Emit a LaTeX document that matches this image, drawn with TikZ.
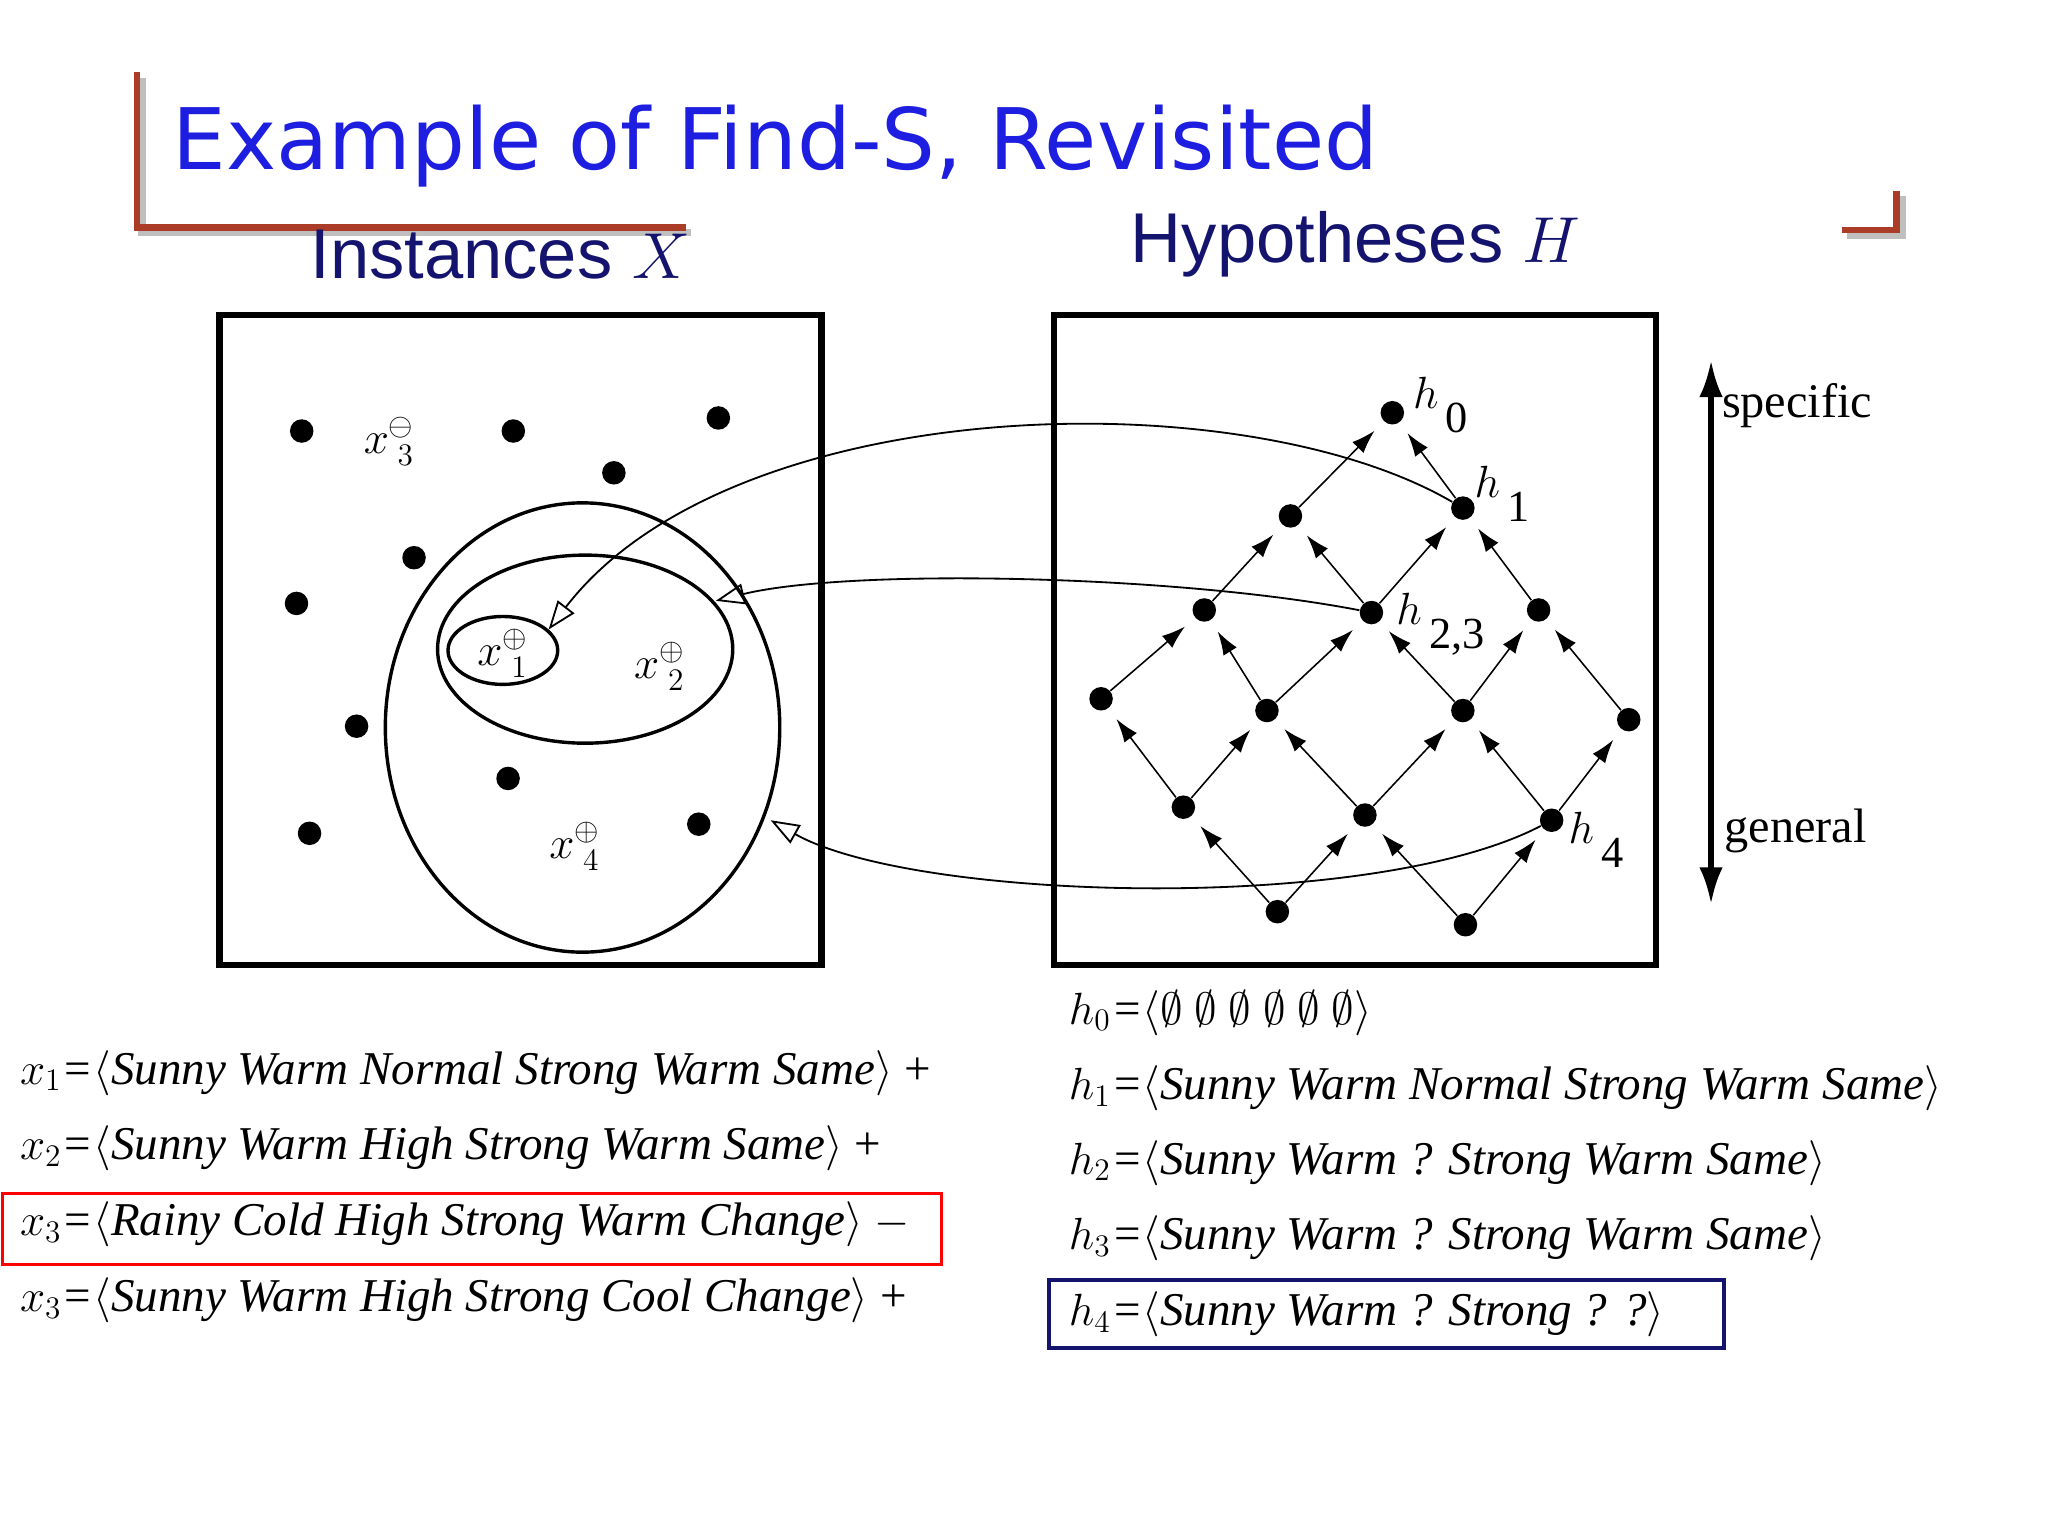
\documentclass[tikz,border=0pt]{standalone}
\usepackage{amssymb}
\usepackage{fontspec}
\setmainfont{Liberation Serif}
\newfontfamily\titlefont{DejaVu Sans}
\newfontfamily\arialf{Liberation Sans}
\usetikzlibrary{arrows.meta}
\definecolor{ttl}{RGB}{30,30,225}
\definecolor{navy}{RGB}{20,20,110}
\definecolor{deco}{RGB}{170,60,40}
\tikzset{
 dot/.style={circle,fill=black,inner sep=0pt,minimum size=9pt},
 up/.style={-{Latex[length=9pt,width=6pt]},shorten >=5pt,line width=0.6pt},
 curv/.style={-{Triangle[open,length=11pt,width=8pt]},line width=0.7pt},
 bt/.style={anchor=base west,inner sep=0pt,font=\fontsize{18}{22}\selectfont},
 hl/.style={font=\fontsize{17}{20}\selectfont\itshape,inner sep=0pt},
 lab/.style={font=\fontsize{18}{20}\selectfont,inner sep=0pt}
}
\begin{document}
\begin{tikzpicture}[x=0.5pt,y=-0.5pt]
\useasboundingbox (0,0) rectangle (1568,1176);
% decorations
\draw[gray!50,line width=3pt] (109,60) -- (109,178) -- (529,178);
\draw[deco,line width=2.5pt] (105,55) -- (105,174) -- (525,174);
\draw[gray!50,line width=3pt] (1414,180) -- (1456,180) -- (1456,150);
\draw[deco,line width=2.5pt] (1410,176) -- (1452,176) -- (1452,146);
\node[anchor=base west,text=ttl,font=\titlefont\fontsize{32.5}{38}\selectfont,inner sep=0pt] (title) at (132,130) {Example of Find-S, Revisited};
\node[anchor=base,text=navy,font=\arialf\fontsize{27}{30}\selectfont,inner sep=0pt] (inst) at (383,213) {Instances $X$};
\node[anchor=base,text=navy,font=\arialf\fontsize{27}{30}\selectfont,inner sep=0pt] (hyp) at (1038,201) {Hypotheses $H$};
% boxes
\draw[line width=2.5pt] (168,241) rectangle (629,739);
\draw[line width=2.5pt] (807,241) rectangle (1268,739);
% left dots
\foreach \p [count=\i] in {(231,330),(393,330),(550,320),(470,362),(317,427),(227,462),(273,556),(389,596),(237,638),(535,631)}
 \node[dot] (d\i) at \p {};
\draw[line width=1.3pt] (446,557) ellipse [x radius=151,y radius=172];
\draw[line width=1.3pt] (448,497) ellipse [x radius=113,y radius=72];
\draw[line width=1.3pt] (385,498) ellipse [x radius=42,y radius=26];
\coordinate (e1) at (420,482);
\coordinate (e2) at (548,460);
\coordinate (e4) at (590,628);
\node[lab] (x3) at (298,338) {$x^{\ominus}_{\;3}$};
\node[lab] (x1) at (385,500) {$x^{\oplus}_{\;1}$};
\node[lab] (x2) at (505,510) {$x^{\oplus}_{\;2}$};
\node[lab] (x4) at (440,648) {$x^{\oplus}_{\;4}$};
% lattice
\node[dot] (h0) at (1066,316) {};
\node[dot] (a1) at (988,395) {};
\node[dot] (h1) at (1120,389) {};
\node[dot] (b1) at (922,467) {};
\node[dot] (h23) at (1050,469) {};
\node[dot] (b3) at (1178,467) {};
\node[dot] (c1) at (843,535) {};
\node[dot] (c2) at (970,544) {};
\node[dot] (c3) at (1120,544) {};
\node[dot] (c4) at (1247,551) {};
\node[dot] (e5) at (906,618) {};
\node[dot] (f2) at (1045,624) {};
\node[dot] (h4) at (1188,628) {};
\node[dot] (g1) at (978,698) {};
\node[dot] (g2) at (1122,708) {};
\foreach \a/\b in {a1/h0,h1/h0,b1/a1,h23/a1,h23/h1,b3/h1,c1/b1,c2/b1,c2/h23,c3/h23,c3/b3,c4/b3,e5/c1,e5/c2,f2/c2,f2/c3,h4/c3,h4/c4,g1/e5,g1/f2,g2/f2,g2/h4}
 \draw[up] (\a) -- (\b);
\node[hl] (lh0) at (1103,310) {$h$\,\raisebox{-1.2ex}{\upshape 0}};
\node[hl] (lh1) at (1150,378) {$h$\,\raisebox{-1.2ex}{\upshape 1}};
\node[hl] (lh23) at (1103,478) {$h$\,\raisebox{-1.2ex}{\upshape 2,3}};
\node[hl] (lh4) at (1222,643) {$h$\,\raisebox{-1.2ex}{\upshape 4}};
% curved arrows
\draw[curv] (h1) .. controls (950,290) and (560,300) .. (e1);
\draw[curv] (h23) .. controls (900,440) and (650,435) .. (e2);
\draw[curv] (h4) .. controls (1050,700) and (700,690) .. (e4);
% specific/general
\coordinate (sg1) at (1310,276);
\coordinate (sg2) at (1310,692);
\draw[{Latex[length=14pt,width=9pt]}-{Latex[length=14pt,width=9pt]},line width=2pt] (sg1) -- (sg2);
\node[anchor=base west,inner sep=0pt,font=\fontsize{18.5}{20}\selectfont] (spec) at (1318,320) {specific};
\node[anchor=base west,inner sep=0pt,font=\fontsize{18.5}{20}\selectfont] (gen) at (1320,645) {general};
% bottom text
\node[bt] (t1) at (15,830) {\itshape $x_1$=$\langle$Sunny Warm Normal Strong Warm Same$\rangle$\upshape{} +};
\node[bt] (t2) at (15,888) {\itshape $x_2$=$\langle$Sunny Warm High Strong Warm Same$\rangle$\upshape{} +};
\node[bt] (t3) at (15,946) {\itshape $x_3$=$\langle$Rainy Cold High Strong Warm Change$\rangle$\upshape{} $-$};
\node[bt] (t4) at (15,1004) {\itshape $x_3$=$\langle$Sunny Warm High Strong Cool Change$\rangle$\upshape{} +};
\node[bt] (r0) at (818,784) {\itshape $h_0$=$\langle\emptyset$ $\emptyset$ $\emptyset$ $\emptyset$ $\emptyset$ $\emptyset\rangle$};
\node[bt] (r1) at (818,842) {\itshape $h_1$=$\langle$Sunny Warm Normal Strong Warm Same$\rangle$};
\node[bt] (r2) at (818,899) {\itshape $h_2$=$\langle$Sunny Warm ? Strong Warm Same$\rangle$};
\node[bt] (r3) at (818,957) {\itshape $h_3$=$\langle$Sunny Warm ? Strong Warm Same$\rangle$};
\node[bt] (r4) at (818,1015) {\itshape $h_4$=$\langle$Sunny Warm ? Strong ? ?$\rangle$};
\draw[red,line width=1.2pt] (2,914) rectangle (721,968);
\draw[navy,line width=1.4pt] (803,980) rectangle (1320,1032);
\end{tikzpicture}
\end{document}
